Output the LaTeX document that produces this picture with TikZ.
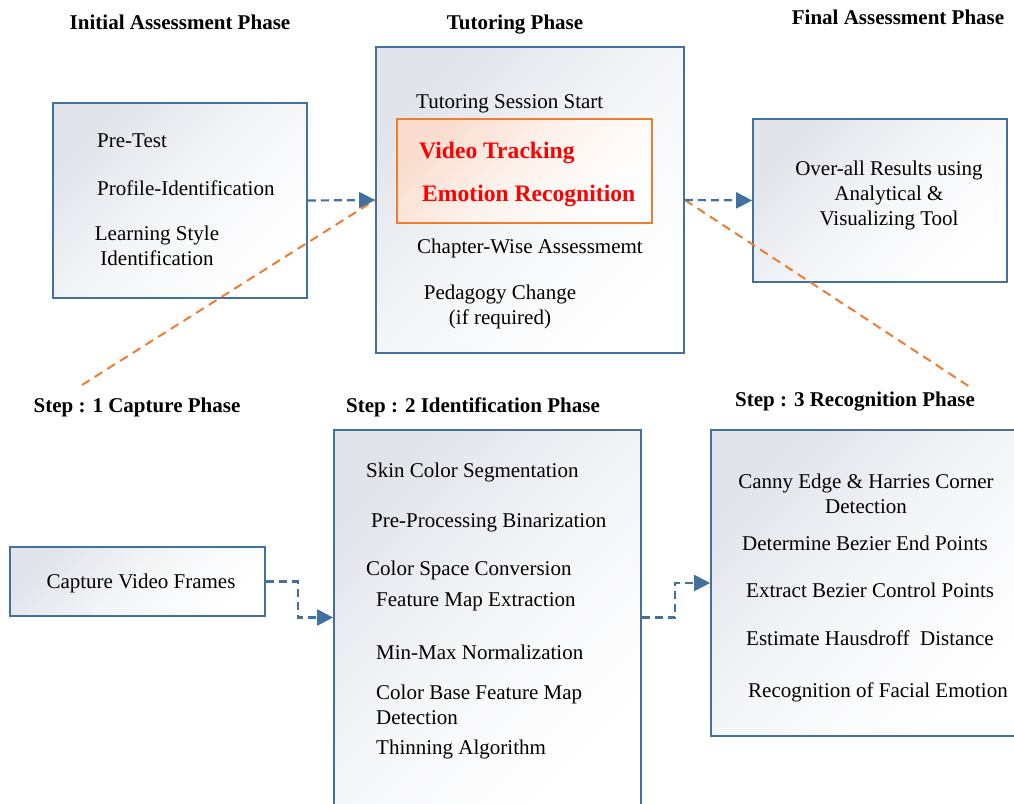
\documentclass[tikz,border=0pt]{standalone}
\usepackage{fontspec}
\setmainfont{Liberation Serif}
\usetikzlibrary{arrows.meta}
\definecolor{boxblue}{HTML}{41719C}
\definecolor{boxgray}{HTML}{E1E4EB}
\definecolor{orangeln}{HTML}{ED7D31}
\definecolor{pinkfill}{HTML}{FADDCF}
\tikzset{
  box/.style={draw=boxblue, line width=1.7pt, top color=boxgray, bottom color=white, middle color=boxgray!35!white, shading angle=45, inner sep=0pt},
  obox/.style={draw=orangeln, line width=1.7pt, top color=pinkfill, bottom color=white, middle color=pinkfill!35!white, shading angle=45, inner sep=0pt},
  txt/.style={font=\fontsize{21}{25}\selectfont, inner sep=0pt, anchor=base west},
  ctxt/.style={font=\fontsize{21}{25}\selectfont, inner sep=0pt, align=center},
  head/.style={font=\fontsize{21}{25}\selectfont\bfseries, inner sep=0pt, anchor=base},
  red/.style={font=\fontsize{23.6}{28}\selectfont\bfseries, text=red, inner sep=0pt, anchor=base west},
  arr/.style={draw=boxblue, line width=2.2pt, dash pattern=on 8pt off 5pt, -{Triangle[length=16pt,width=16pt]}},
  odash/.style={draw=orangeln, line width=2pt, dash pattern=on 9pt off 6pt},
}
\begin{document}
\begin{tikzpicture}[x=1pt,y=-1pt]
\useasboundingbox (0,0) rectangle (1014,803);
% boxes
\node[box, minimum width=254, minimum height=195] (init) at (180,200.5) {};
\node[box, minimum width=308, minimum height=306] (tut) at (530,200) {};
\node[obox, minimum width=255, minimum height=104] (vt) at (524.5,171) {};
\node[box, minimum width=254, minimum height=163] (fin) at (880,200.5) {};
\node[box, minimum width=255, minimum height=69] (cap) at (137.5,581.5) {};
\node[box, minimum width=307, minimum height=375] (ident) at (487.5,617.5) {};
\node[box, minimum width=305, minimum height=306] (recog) at (863.5,583) {};
% headings
\node[head] (h1) at (180,29) {Initial Assessment Phase};
\node[head] (h2) at (515,29) {Tutoring Phase};
\node[head] (h3) at (898,24) {Final Assessment Phase};
\node[head] (s1) at (137,412) {Step : 1 Capture Phase};
\node[head] (s2) at (473,412) {Step : 2 Identification Phase};
\node[head] (s3) at (855,406) {Step : 3 Recognition Phase};
% initial box text
\node[txt] (t1) at (97,147) {Pre-Test};
\node[txt] (t2) at (97,195) {Profile-Identification};
\node[ctxt] (t3) at (157,246) {Learning Style\\Identification};
% tutoring
\node[txt] (t4) at (416,108) {Tutoring Session Start};
\node[red] (t5) at (419,158) {Video Tracking};
\node[red] (t6) at (422,201) {Emotion Recognition};
\node[txt] (t7) at (417,253) {Chapter-Wise Assessmemt};
\node[ctxt] (t8) at (500,307) {Pedagogy Change\\(if required)};
% final
\node[ctxt] (t9) at (889,195) {Over-all Results using\\Analytical \&\\Visualizing Tool};
% capture
\node[ctxt, anchor=base] (t10) at (141,588) {Capture Video Frames};
% identification
\node[txt] at (366,477) {Skin Color Segmentation};
\node[txt] at (371,527) {Pre-Processing Binarization};
\node[txt] at (366,575) {Color Space Conversion};
\node[txt] at (376,606) {Feature Map Extraction};
\node[txt] at (376,659) {Min-Max Normalization};
\node[txt] at (376,699) {Color Base Feature Map};
\node[txt] at (376,724) {Detection};
\node[txt] at (376,754) {Thinning Algorithm};
% recognition
\node[ctxt] at (866,494) {Canny Edge \& Harries Corner\\Detection};
\node[txt] at (742,550) {Determine Bezier End Points};
\node[txt] at (746,597) {Extract Bezier Control Points};
\node[txt] at (746,645) {Estimate Hausdroff\ \ Distance};
\node[txt] at (748,697) {Recognition of Facial Emotion};
% orange dashed lines
\coordinate (o1) at (82,385);
\coordinate (o2) at (970,387);
\draw[odash] (o1) -- (tut.west);
\draw[odash] (tut.east) -- (o2);
% arrows
\draw[arr] (init.east) -- (tut.west);
\draw[arr] (tut.east) -- (fin.west);
\draw[arr] (cap.east) -- ++(32,0) |- (ident.west);
\draw[arr] (ident.east) -- ++(33,0) |- (recog.west);
\end{tikzpicture}
\end{document}
